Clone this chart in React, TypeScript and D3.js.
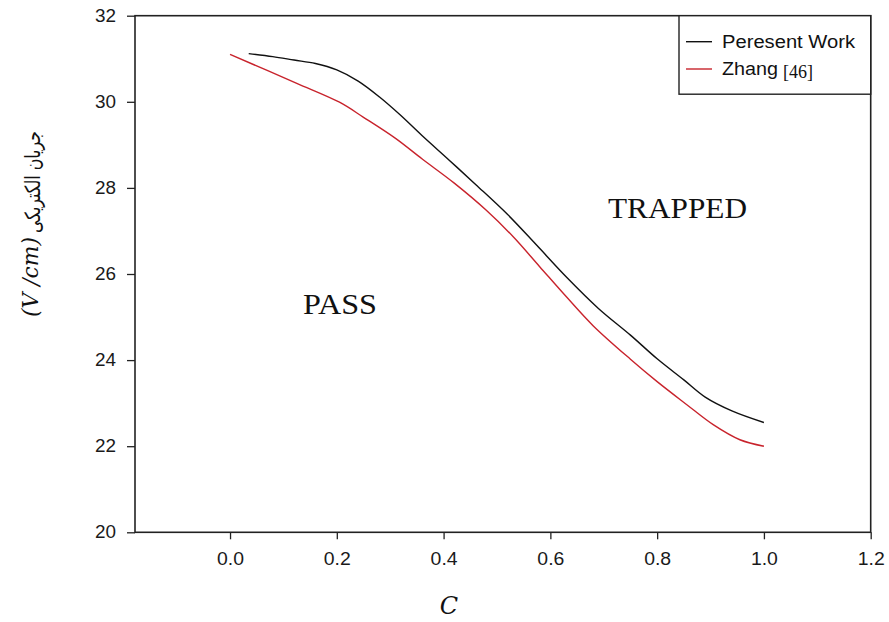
import React, { useEffect, useRef } from "react";
import * as d3 from "d3";

// Present work curve
const presentC = [0.035, 0.08, 0.12, 0.16, 0.2, 0.24, 0.28, 0.32, 0.36, 0.41, 0.46, 0.52, 0.575, 0.63, 0.69, 0.75, 0.8, 0.85, 0.89, 0.94, 1.0];
const presentE = [31.12, 31.05, 30.97, 30.89, 30.74, 30.48, 30.11, 29.68, 29.21, 28.65, 28.08, 27.38, 26.66, 25.93, 25.2, 24.58, 24.03, 23.54, 23.14, 22.82, 22.55];

// Zhang [46]
const zhangC = [0.0, 0.125, 0.205, 0.25, 0.31, 0.36, 0.42, 0.48, 0.53, 0.58, 0.63, 0.68, 0.75, 0.8, 0.855, 0.905, 0.955, 1.0];
const zhangE = [31.1, 30.43, 29.99, 29.64, 29.15, 28.67, 28.11, 27.48, 26.87, 26.17, 25.47, 24.8, 24.02, 23.5, 22.97, 22.5, 22.15, 22.0];

const xTicks = [0, 0.2, 0.4, 0.6, 0.8, 1.0, 1.2];
const yTicks = [20, 22, 24, 26, 28, 30, 32];
const legendLabels = ["Peresent Work", "Zhang"];

const W = 889;
const H = 622;
const margin = { top: 15.7, right: 18.3, bottom: 89.7, left: 135 };

const App = () => {
  const xAxisRef = useRef(null);
  const yAxisRef = useRef(null);

  const x = d3.scaleLinear().domain([-0.178, 1.2]).range([margin.left, W - margin.right]);
  const y = d3.scaleLinear().domain([20, 32]).range([H - margin.bottom, margin.top]);

  const line = d3
    .line<[number, number]>()
    .x((d) => x(d[0]))
    .y((d) => y(d[1]))
    .curve(d3.curveCatmullRom.alpha(0.5));

  const present = presentC.map((c, i) => [c, presentE[i]] as [number, number]);
  const zhang = zhangC.map((c, i) => [c, zhangE[i]] as [number, number]);

  useEffect(() => {
    const gx = d3.select(xAxisRef.current);
    gx.selectAll("*").remove();
    gx.call(
      d3.axisBottom(x).tickValues(xTicks).tickFormat(d3.format(".1f")).tickSize(7).tickPadding(13)
    );
    gx.select(".domain").remove();
    gx.selectAll("line").attr("stroke", "#222").attr("stroke-width", 1.3);
    gx.selectAll("text")
      .attr("font-family", "Liberation Sans, Arial, sans-serif")
      .attr("font-size", 17.5)
      .attr("fill", "#1a1a1a")
      .attr("textLength", 27)
      .attr("lengthAdjust", "spacingAndGlyphs");

    const gy = d3.select(yAxisRef.current);
    gy.selectAll("*").remove();
    gy.call(d3.axisLeft(y).tickValues(yTicks).tickSize(8).tickPadding(11));
    gy.select(".domain").remove();
    gy.selectAll("line").attr("stroke", "#222").attr("stroke-width", 1.3);
    gy.selectAll("text")
      .attr("font-family", "Liberation Sans, Arial, sans-serif")
      .attr("font-size", 17.5)
      .attr("fill", "#1a1a1a")
      .attr("textLength", 21)
      .attr("lengthAdjust", "spacingAndGlyphs");
  }, []);

  const x0 = margin.left;
  const x1 = W - margin.right;
  const y0 = margin.top;
  const y1 = H - margin.bottom;

  const legX = 679;
  const legY = y0;
  const legW = x1 - legX;
  const legH = 78.5;

  return (
    <svg
      width={W}
      height={H}
      style={{ position: "absolute", left: 0, top: 0, background: "#fff" }}
    >
      <g ref={xAxisRef} transform={`translate(0,${y1})`} />
      <g ref={yAxisRef} transform={`translate(${x0},0)`} />

      <rect x={x0} y={y0} width={x1 - x0} height={y1 - y0} fill="none" stroke="#222" strokeWidth={1.6} />

      <path d={line(zhang) || ""} fill="none" stroke="#c8232c" strokeWidth={1.4} />
      <path d={line(present) || ""} fill="none" stroke="#111" strokeWidth={1.4} />

      <text x={303} y={314} fontFamily="Liberation Serif, Times New Roman, serif" fontSize={29} fill="#111" textLength={74} lengthAdjust="spacingAndGlyphs">
        PASS
      </text>
      <text x={608} y={218} fontFamily="Liberation Serif, Times New Roman, serif" fontSize={29} fill="#111" textLength={139} lengthAdjust="spacingAndGlyphs">
        TRAPPED
      </text>

      {/* legend */}
      <rect x={legX} y={legY} width={legW} height={legH} fill="#fff" stroke="#222" strokeWidth={1.4} />
      <line x1={686} x2={712} y1={41.7} y2={41.7} stroke="#111" strokeWidth={1.4} />
      <line x1={686} x2={712} y1={69} y2={69} stroke="#c8232c" strokeWidth={1.4} />
      <text x={722} y={47.5} fontFamily="Liberation Sans, Arial, sans-serif" fontSize={17.5} fill="#111" textLength={133} lengthAdjust="spacingAndGlyphs">
        {legendLabels[0]}
      </text>
      <text x={722} y={74.5} fontFamily="Liberation Sans, Arial, sans-serif" fontSize={17.5} fill="#111" textLength={56} lengthAdjust="spacingAndGlyphs">
        {legendLabels[1]}
      </text>
      <text x={783} y={78} fontFamily="Liberation Serif, Times New Roman, serif" fontSize={18} fill="#111">
        [46]
      </text>

      {/* axis titles */}
      <text x={449} y={614} textAnchor="middle" fontFamily="DejaVu Serif, serif" fontStyle="italic" fontSize={24} fill="#111">
        C
      </text>
      <g transform="translate(38,0) rotate(-90)">
        <text x={-317} y={0} fontFamily="DejaVu Serif, serif" fontStyle="italic" fontSize={22} fill="#111" textLength={80} lengthAdjust="spacingAndGlyphs">
          (V /cm)
        </text>
        <text x={-182} y={2} textAnchor="middle" direction="rtl" fontFamily="DejaVu Sans, sans-serif" fontSize={21} fill="#111" textLength={102} lengthAdjust="spacingAndGlyphs">
          جریان الکتریکی
        </text>
      </g>
    </svg>
  );
};

export default App;
